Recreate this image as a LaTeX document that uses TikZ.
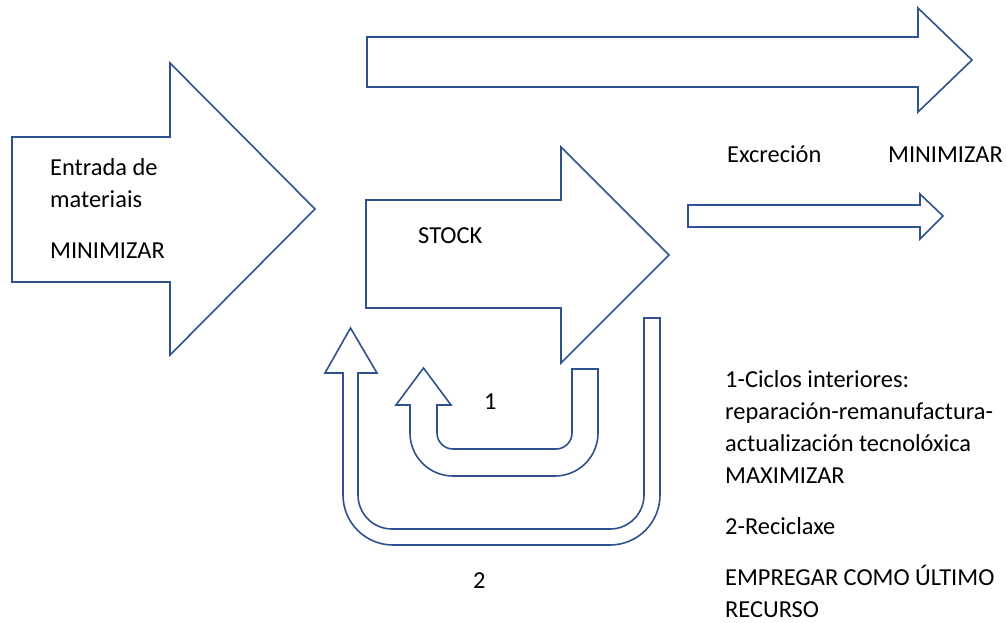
\documentclass[tikz,border=0pt]{standalone}
\usepackage{fontspec}
\setmainfont{Carlito}
\usetikzlibrary{calc, positioning}
\definecolor{arrowblue}{RGB}{47,82,143}
\def\arrowdrawcolor{arrowblue}
\def\strokewidth{1.6pt}
\def\textsize{24.4}
\def\textskip{32}
\def\innerradius{16}
\def\outerradius{43}
\def\recyclinnerradius{34}
\def\recyclouterradius{50}
\tikzset{
	% block arrows
	block_arrow/.style={
		draw=\arrowdrawcolor,
		line width=\strokewidth,
		line join=miter,
		fill=white,
	},
	% texts (base = baseline of the last line)
	diagram_text/.style={
		font=\fontsize{\textsize}{\textskip}\selectfont,
		text=black,
		align=left,
		inner sep=0pt,
		anchor=base west,
	},
}
\begin{document}
\begin{tikzpicture}[x=1pt, y=-1pt]
		\useasboundingbox (0,0) rectangle (1007,622);

		% Entrada de materiais
		\draw[block_arrow] (12,137) -- (170,137) -- (170,63) -- (315,209)
			-- (170,355) -- (170,282) -- (12,282) -- cycle;
		\node[diagram_text] (entrada) at (50,207) {Entrada de\\materiais};
		\node[diagram_text] (entrada_min) at (50,258) {MINIMIZAR};

		% Top flow
		\draw[block_arrow] (367,37) -- (918,37) -- (918,8) -- (972,60)
			-- (918,112) -- (918,87) -- (367,87) -- cycle;

		% Stock
		\draw[block_arrow] (366,200) -- (561,200) -- (561,147) -- (669,255)
			-- (561,363) -- (561,308) -- (366,308) -- cycle;
		\node[diagram_text] (stock) at (418,243) {STOCK};

		% Excrecion
		\draw[block_arrow] (688,205) -- (920,205) -- (920,194) -- (943,216)
			-- (920,239) -- (920,227) -- (688,227) -- cycle;
		\node[diagram_text] (excrecion) at (727,162) {Excreción};
		\node[diagram_text] (excrecion_min) at (888,162) {MINIMIZAR};

		% Loop 1: inner cycles
		\draw[block_arrow] (598,369) -- (598,433)
			arc[start angle=0, end angle=90, radius=\outerradius] -- (453,476)
			arc[start angle=90, end angle=180, radius=\outerradius] -- (410,405)
			-- (396,405) -- (423.5,368) -- (451,405) -- (437,405) -- (437,433)
			arc[start angle=180, end angle=90, radius=\innerradius] -- (556,449)
			arc[start angle=90, end angle=0, radius=\innerradius] -- (572,369) -- cycle;
		\node[diagram_text] (loop_one) at (484,409) {1};

		% Loop 2: recycling
		\draw[block_arrow] (660,318) -- (660,495)
			arc[start angle=0, end angle=90, radius=\recyclouterradius] -- (393,545)
			arc[start angle=90, end angle=180, radius=\recyclouterradius] -- (343,373)
			-- (325,373) -- (350.5,328) -- (377,373) -- (358,373) -- (358,495)
			arc[start angle=180, end angle=90, radius=\recyclinnerradius] -- (610,529)
			arc[start angle=90, end angle=0, radius=\recyclinnerradius] -- (644,318) -- cycle;
		\node[diagram_text] (loop_two) at (473,588) {2};

		% Legend
		\node[diagram_text] (legend_one) at (725,483)
			{1-Ciclos interiores:\\reparación-remanufactura-\\actualización tecnolóxica\\MAXIMIZAR};
		\node[diagram_text] (legend_two) at (725,534) {2-Reciclaxe};
		\node[diagram_text] (legend_last) at (725,617) {EMPREGAR COMO ÚLTIMO\\RECURSO};
	\end{tikzpicture}
\end{document}
